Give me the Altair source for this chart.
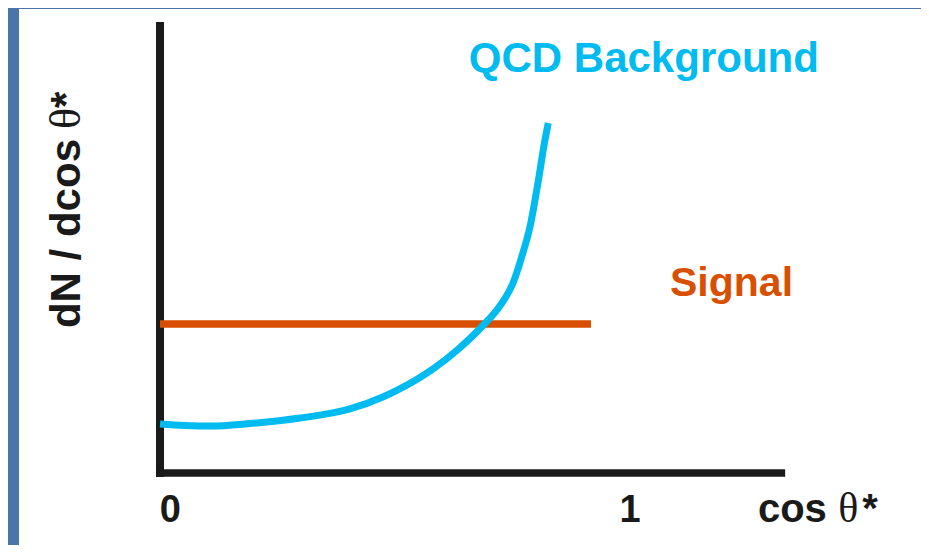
import altair as alt
import pandas as pd

# QCD background curve (x = cos theta*, y = dN/dcos theta*, arbitrary units)
bg_x = [0.0, 0.053, 0.106, 0.191, 0.298, 0.404, 0.474, 0.511, 0.547, 0.581,
        0.634, 0.687, 0.723, 0.751, 0.772, 0.787, 0.804, 0.819, 0.826]
bg_y = [0.329, 0.319, 0.315, 0.332, 0.369, 0.430, 0.510, 0.567, 0.630, 0.699,
        0.830, 0.990, 1.121, 1.275, 1.477, 1.651, 1.946, 2.235, 2.349]

# Signal: flat
sig_x = [0.0, 0.917]
sig_y = [1.0, 1.0]

# hand-drawn axes extents
yaxis_top = 3.027
yaxis_bottom = -0.027
xaxis_left = -0.0085
xaxis_right = 1.330

# tick labels
tick_labels = ["0", "1"]
tick_x = [0.022, 1.0]
tick_y = -0.329

X_DOMAIN = [-0.3, 1.619]
Y_DOMAIN = [-0.483, 3.114]

CYAN = "#00BBF0"
ORANGE = "#D94F00"
BLACK = "#1a1a1a"
FONT = "Liberation Sans"

xs = alt.Scale(domain=X_DOMAIN, nice=False, zero=False)
ys = alt.Scale(domain=Y_DOMAIN, nice=False, zero=False)

bg_df = pd.DataFrame({"x": bg_x, "y": bg_y})
sig_df = pd.DataFrame({"x": [sig_x[0]], "x2": [sig_x[1]], "y": [sig_y[0]]})
yax_df = pd.DataFrame({"x": [0.0], "y": [yaxis_bottom], "y2": [yaxis_top]})
xax_df = pd.DataFrame({"x": [xaxis_left], "x2": [xaxis_right], "y": [0.0]})
tick_df = pd.DataFrame({"t": tick_labels, "x": tick_x, "y": [tick_y, tick_y]})

yaxis = alt.Chart(yax_df).mark_rule(color=BLACK, strokeWidth=8, strokeCap="butt").encode(
    x=alt.X("x:Q", scale=xs, axis=None),
    y=alt.Y("y:Q", scale=ys, axis=None),
    y2="y2:Q",
)
xaxis = alt.Chart(xax_df).mark_rule(color=BLACK, strokeWidth=7.5, strokeCap="butt").encode(
    x=alt.X("x:Q", scale=xs, axis=None),
    x2="x2:Q",
    y=alt.Y("y:Q", scale=ys, axis=None),
)
signal = alt.Chart(sig_df).mark_rule(color=ORANGE, strokeWidth=7.5, strokeCap="butt").encode(
    x=alt.X("x:Q", scale=xs, axis=None),
    x2="x2:Q",
    y=alt.Y("y:Q", scale=ys, axis=None),
)
background = alt.Chart(bg_df).mark_line(
    color=CYAN, strokeWidth=7, interpolate="monotone", strokeCap="butt"
).encode(
    x=alt.X("x:Q", scale=xs, axis=None),
    y=alt.Y("y:Q", scale=ys, axis=None),
    order="x:Q",
)


def text_layer(df, **kw):
    return alt.Chart(df).mark_text(**kw).encode(
        x=alt.X("x:Q", scale=xs, axis=None),
        y=alt.Y("y:Q", scale=ys, axis=None),
        text="t:N",
    )


ticks = text_layer(tick_df, font=FONT, fontSize=38, fontWeight="bold",
                   color=BLACK, align="center", baseline="alphabetic")
qcd = text_layer(pd.DataFrame({"t": ["QCD Background"], "x": [0.657], "y": [2.691]}),
                 font=FONT, fontSize=42, fontWeight="bold", color=CYAN,
                 align="left", baseline="alphabetic")
sig_lbl = text_layer(pd.DataFrame({"t": ["Signal"], "x": [1.085], "y": [1.188]}),
                     font=FONT, fontSize=41, fontWeight="bold", color=ORANGE,
                     align="left", baseline="alphabetic")
cos_lbl = text_layer(pd.DataFrame({"t": ["cos"], "x": [1.272], "y": [tick_y]}),
                     font=FONT, fontSize=40, fontWeight="bold", color=BLACK,
                     align="left", baseline="alphabetic")
theta_lbl = text_layer(pd.DataFrame({"t": ["θ"], "x": [1.443], "y": [tick_y]}),
                       font="Liberation Serif", fontSize=42, fontWeight="normal",
                       color=BLACK, align="left", baseline="alphabetic")
star_lbl = text_layer(pd.DataFrame({"t": ["*"], "x": [1.494], "y": [tick_y]}),
                      font=FONT, fontSize=40, fontWeight="bold", color=BLACK,
                      align="left", baseline="alphabetic")

# rotated y title, split so the theta can be a serif glyph
ytitle = text_layer(pd.DataFrame({"t": ["dN / dcos"], "x": [-0.170], "y": [0.973]}),
                    font=FONT, fontSize=42, fontWeight="bold", color=BLACK,
                    align="left", baseline="alphabetic", angle=270)
ytheta = text_layer(pd.DataFrame({"t": ["θ"], "x": [-0.170], "y": [2.309]}),
                    font="Liberation Serif", fontSize=44, fontWeight="normal", color=BLACK,
                    align="left", baseline="alphabetic", angle=270)
ystar = text_layer(pd.DataFrame({"t": ["*"], "x": [-0.170], "y": [2.45]}),
                   font=FONT, fontSize=42, fontWeight="bold", color=BLACK,
                   align="left", baseline="alphabetic", angle=270)

chart = alt.layer(
    yaxis, xaxis, signal, background, ticks, qcd, sig_lbl, cos_lbl, theta_lbl, star_lbl,
    ytitle, ytheta, ystar
).properties(
    width=902,
    height=536,
    padding={"left": 11, "top": 1, "right": 0, "bottom": 0},
    autosize=alt.AutoSizeParams(type="none"),
    background="#4B74A9",
).configure_view(
    stroke=None,
    fill="white",
)

chart.save("out.html", embed_options={"renderer": "svg", "actions": False})
